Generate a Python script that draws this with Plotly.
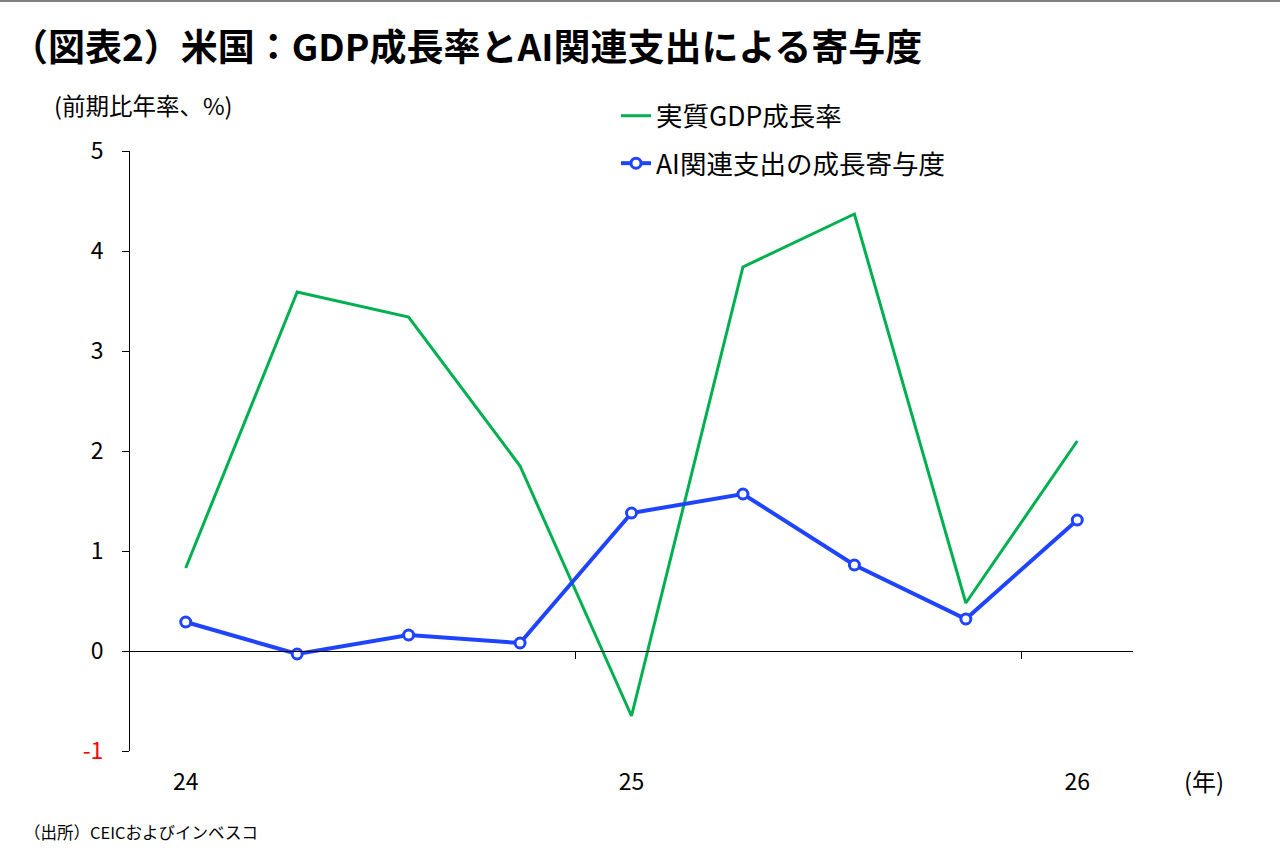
import plotly.graph_objects as go

quarters = ["2024Q1", "2024Q2", "2024Q3", "2024Q4", "2025Q1", "2025Q2", "2025Q3", "2025Q4", "2026Q1"]
gdp_growth = [0.83, 3.59, 3.34, 1.85, -0.65, 3.84, 4.37, 0.48, 2.10]
ai_contrib = [0.29, -0.03, 0.16, 0.08, 1.38, 1.57, 0.86, 0.32, 1.31]
year_tick_pos = [0, 4, 8]
year_tick_text = ["24", "25", "26"]
year_boundaries = [3.5, 7.5]
y_ticks = [-1, 0, 1, 2, 3, 4, 5]

FONT = "Noto Sans CJK JP"
W, H = 1280, 860
ML, MR, MT, MB = 130, 147, 151, 109
plot_w = W - ML - MR
plot_h = H - MT - MB

xs = list(range(len(quarters)))

fig = go.Figure()
fig.add_trace(go.Scatter(
    x=xs, y=gdp_growth, mode="lines", name="実質GDP成長率",
    line=dict(color="#00B050", width=3), legendgroup="g1",
))
fig.add_trace(go.Scatter(
    x=xs, y=ai_contrib, mode="lines+markers", name="AI関連支出の成長寄与度",
    line=dict(color="#1F44FF", width=4),
    marker=dict(symbol="circle", size=10, color="white", line=dict(color="#1F44FF", width=3)),
    xaxis="x2", legendgroup="g2",
))

y_text = [f'<span style="color:#FF0000">{v}</span>' if v < 0 else str(v) for v in y_ticks]

fig.update_layout(
    width=W, height=H,
    margin=dict(l=ML, r=MR, t=MT, b=MB),
    paper_bgcolor="white", plot_bgcolor="white",
    font=dict(family=FONT, color="black"),
    showlegend=True,
    legend=dict(
        x=(616 - ML) / plot_w, y=1 + (MT - 92) / plot_h,
        xanchor="left", yanchor="top",
        font=dict(size=26.5, family=FONT, color="black"),
        bgcolor="rgba(0,0,0,0)",
        tracegroupgap=10, itemwidth=30,
    ),
    xaxis=dict(
        range=[-0.5, 8.5],
        anchor="free", position=1 / 6,
        showline=True, linecolor="black", linewidth=1,
        tickmode="array", tickvals=year_boundaries, ticktext=["", ""],
        ticks="outside", ticklen=7, tickcolor="black", tickwidth=1,
        showgrid=False, zeroline=False,
    ),
    xaxis2=dict(
        range=[-0.5, 8.5], overlaying="x", side="bottom", anchor="y",
        matches="x",
        showline=False, showgrid=False, zeroline=False,
        tickmode="array", tickvals=year_tick_pos, ticktext=year_tick_text,
        ticks="", tickfont=dict(size=23, family=FONT, color="black"),
        ticklabelstandoff=15,
    ),
    yaxis=dict(
        range=[-1, 5],
        tickmode="array", tickvals=y_ticks, ticktext=y_text,
        ticks="outside", ticklen=7, tickcolor="black", tickwidth=1,
        showline=True, linecolor="black", linewidth=1,
        showgrid=False, zeroline=False,
        tickfont=dict(size=23, family=FONT, color="black"),
        ticklabelstandoff=14,
    ),
)

fig.add_annotation(
    text="<b>（図表2）米国：GDP成長率とAI関連支出による寄与度</b>",
    xref="paper", yref="paper", x=-(ML - 9) / plot_w, y=1 + (MT - 45) / plot_h,
    xanchor="left", yanchor="middle", showarrow=False,
    font=dict(size=37, family=FONT, color="black"),
)
fig.add_annotation(
    text="(前期比年率、%)",
    xref="paper", yref="paper", x=-(ML - 52) / plot_w, y=1 + (MT - 105) / plot_h,
    xanchor="left", yanchor="middle", showarrow=False,
    font=dict(size=23.5, family=FONT, color="black"),
)
fig.add_annotation(
    text="(年)",
    xref="paper", yref="paper", x=(1204 - ML) / plot_w, y=-(780 - (H - MB)) / plot_h,
    xanchor="center", yanchor="middle", showarrow=False,
    font=dict(size=24, family=FONT, color="black"),
)
fig.add_annotation(
    text="（出所）CEICおよびインベスコ",
    xref="paper", yref="paper", x=-(ML - 22) / plot_w, y=-(832 - (H - MB)) / plot_h,
    xanchor="left", yanchor="middle", showarrow=False,
    font=dict(size=16.5, family=FONT, color="black"),
)
fig.add_shape(
    type="line", xref="paper", yref="paper",
    x0=-ML / plot_w, x1=1 + MR / plot_w,
    y0=1 + (MT - 1) / plot_h, y1=1 + (MT - 1) / plot_h,
    line=dict(color="#808080", width=2),
)

fig.write_html("out.html")
